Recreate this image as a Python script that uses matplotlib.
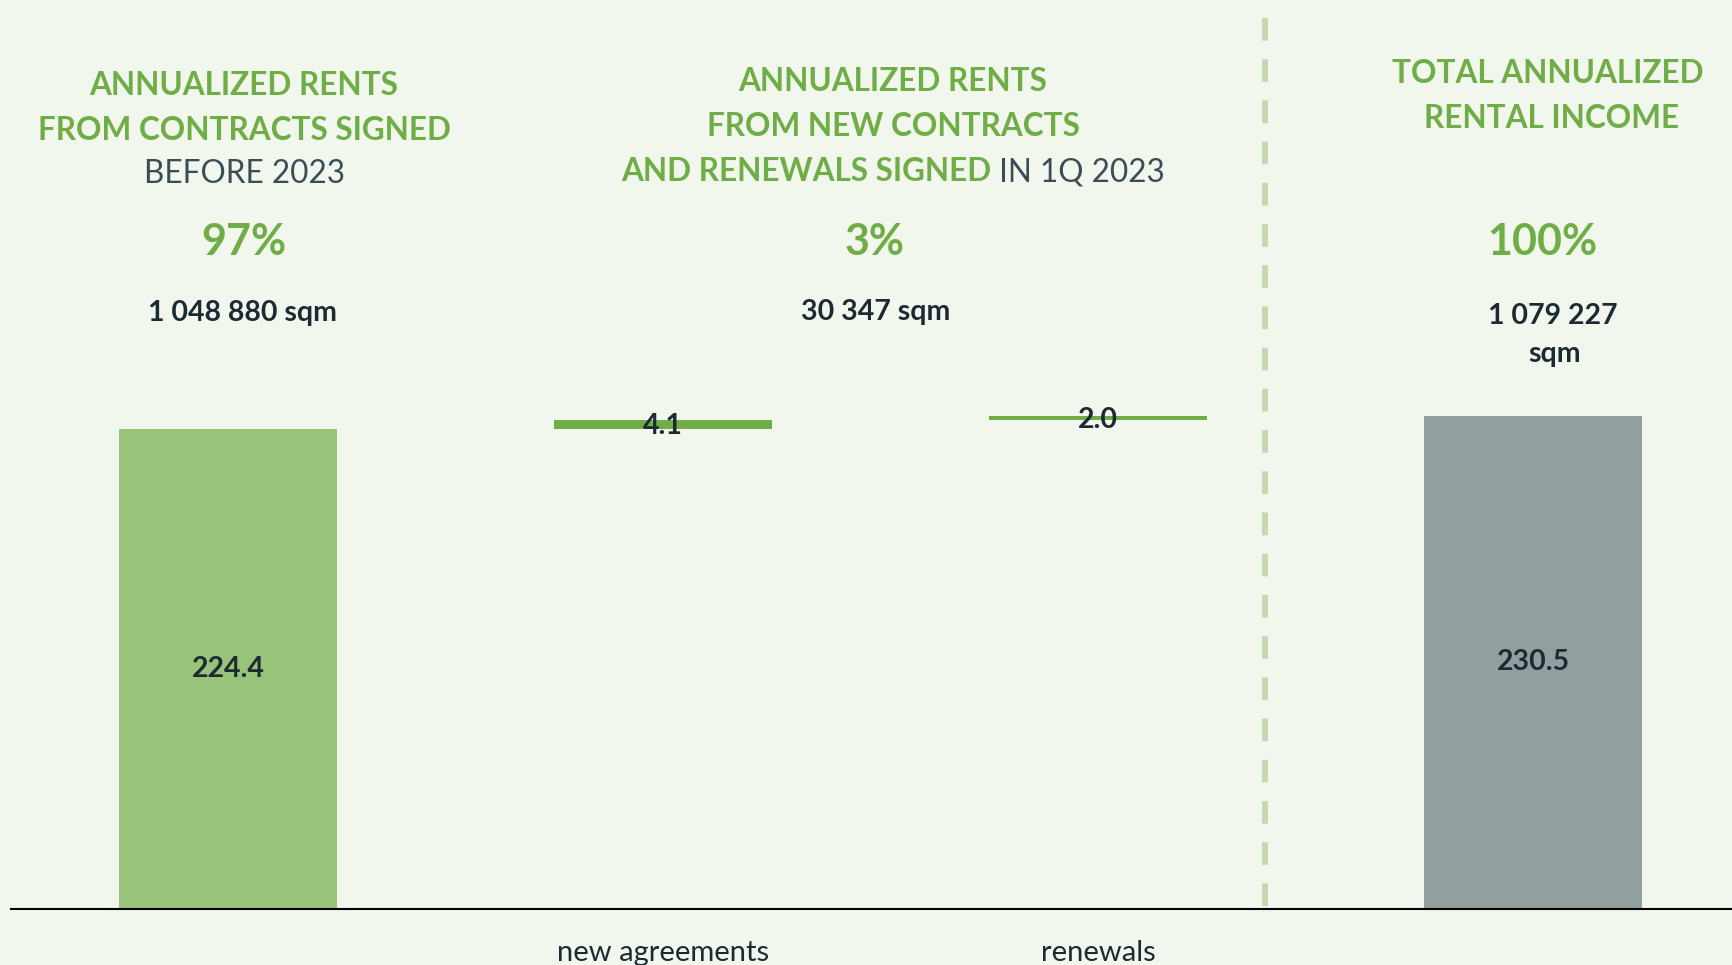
import matplotlib
matplotlib.use("Agg")
import matplotlib.pyplot as plt
from matplotlib.lines import Line2D

plt.rcParams['font.family'] = ['Lato', 'DejaVu Sans']

# waterfall values (EUR m)
categories = ["", "new agreements", "renewals", ""]
values = [224.4, 4.1, 2.0, 230.5]
shares = ["97%", "3%", "100%"]
areas = ["1 048 880 sqm", "30 347 sqm", "1 079 227\nsqm"]

GREEN = "#70ad47"
LIGHT_GREEN = "#98c479"
GREY_BAR = "#939f9e"
DARK = "#1c2b33"
SLATE = "#3a4d57"
BG = "#f1f7ec"
DASH = "#c5d8b0"

W, H = 1732, 965
fig = plt.figure(figsize=(W / 100, H / 100), dpi=100, facecolor=BG)

def px(x, y):
    return x / W, 1 - y / H

unit = 480.4 / 224.4  # pixels per unit
base_y = 909
ax = fig.add_axes([11 / W, (H - base_y) / H, 1 - 11 / W, base_y / H])
ax.set_facecolor(BG)

bottoms = [0, values[0], values[0] + values[1], 0]
colors = [LIGHT_GREEN, GREEN, GREEN, GREY_BAR]
x = range(len(values))
ax.bar(x, values, bottom=bottoms, width=0.5, color=colors)

ax.set_xlim(-0.499, (W - 228) / 435)
ax.set_ylim(0, base_y / unit)
for s in ["top", "left", "right"]:
    ax.spines[s].set_visible(False)
ax.spines["bottom"].set_linewidth(1.5)
ax.spines["bottom"].set_color("black")
ax.set_yticks([])
ax.set_xticks(list(x))
ax.set_xticklabels(categories, fontsize=21, color=DARK)
ax.tick_params(axis="x", length=0, pad=22)

# value labels
label_offsets = [0, 1.0, 1.0, 0]
for i, v in enumerate(values):
    ax.text(i, bottoms[i] + v / 2 - label_offsets[i], f"{v:.1f}", ha="center", va="center",
            fontsize=20.5, fontweight="bold", color=DARK)

# separator before the total
sep_x = (1265 - 228) / 435
ax.add_line(Line2D([sep_x, sep_x], [(base_y - 18) / unit, (base_y - 923) / unit],
                   color=DASH, lw=4.3, linestyle=(0, (3.8, 3.1)),
                   solid_capstyle="butt", dash_capstyle="butt", clip_on=False))

hdr = dict(ha="center", va="baseline", fontsize=22.7, fontweight="bold", color=GREEN)

# column 1
fig.text(*px(244, 95), "ANNUALIZED RENTS", **hdr)
fig.text(*px(244, 140), "FROM CONTRACTS SIGNED", **hdr)
fig.text(*px(244, 183), "BEFORE 2023", ha="center", va="baseline", fontsize=22.7, color=SLATE)

# column 2
fig.text(*px(893, 91), "ANNUALIZED RENTS", **hdr)
fig.text(*px(893, 136), "FROM NEW CONTRACTS", **hdr)
renderer = fig.canvas.get_renderer()
t1 = fig.text(0, 0, "AND RENEWALS SIGNED", ha="left", va="baseline", fontsize=22.7,
              fontweight="bold", color=GREEN)
t2 = fig.text(0, 0, " IN 1Q 2023", ha="left", va="baseline", fontsize=22.7, color=SLATE)
w1 = t1.get_window_extent(renderer).width
w2 = t2.get_window_extent(renderer).width
start = 893 - (w1 + w2) / 2
t1.set_position(px(start, 181))
t2.set_position(px(start + w1, 181))

# column 3
fig.text(*px(1548, 83), "TOTAL ANNUALIZED", **hdr)
fig.text(*px(1552, 128), "RENTAL INCOME", **hdr)

# shares and areas
share_x = [244, 875, 1542]
area_x = [242, 876, 1553]
for sx, s in zip(share_x, shares):
    fig.text(*px(sx, 255), s, ha="center", va="baseline", fontsize=31,
             fontweight="bold", color=GREEN)
area_kw = dict(ha="center", va="baseline", fontsize=20.5, fontweight="bold", color=DARK)
fig.text(*px(area_x[0], 321), areas[0], **area_kw)
fig.text(*px(area_x[1], 320), areas[1], **area_kw)
fig.text(*px(area_x[2], 324), areas[2].split("\n")[0], **area_kw)
fig.text(*px(1555, 362), areas[2].split("\n")[1], **area_kw)

fig.savefig("out.png", dpi=100, facecolor=BG)
